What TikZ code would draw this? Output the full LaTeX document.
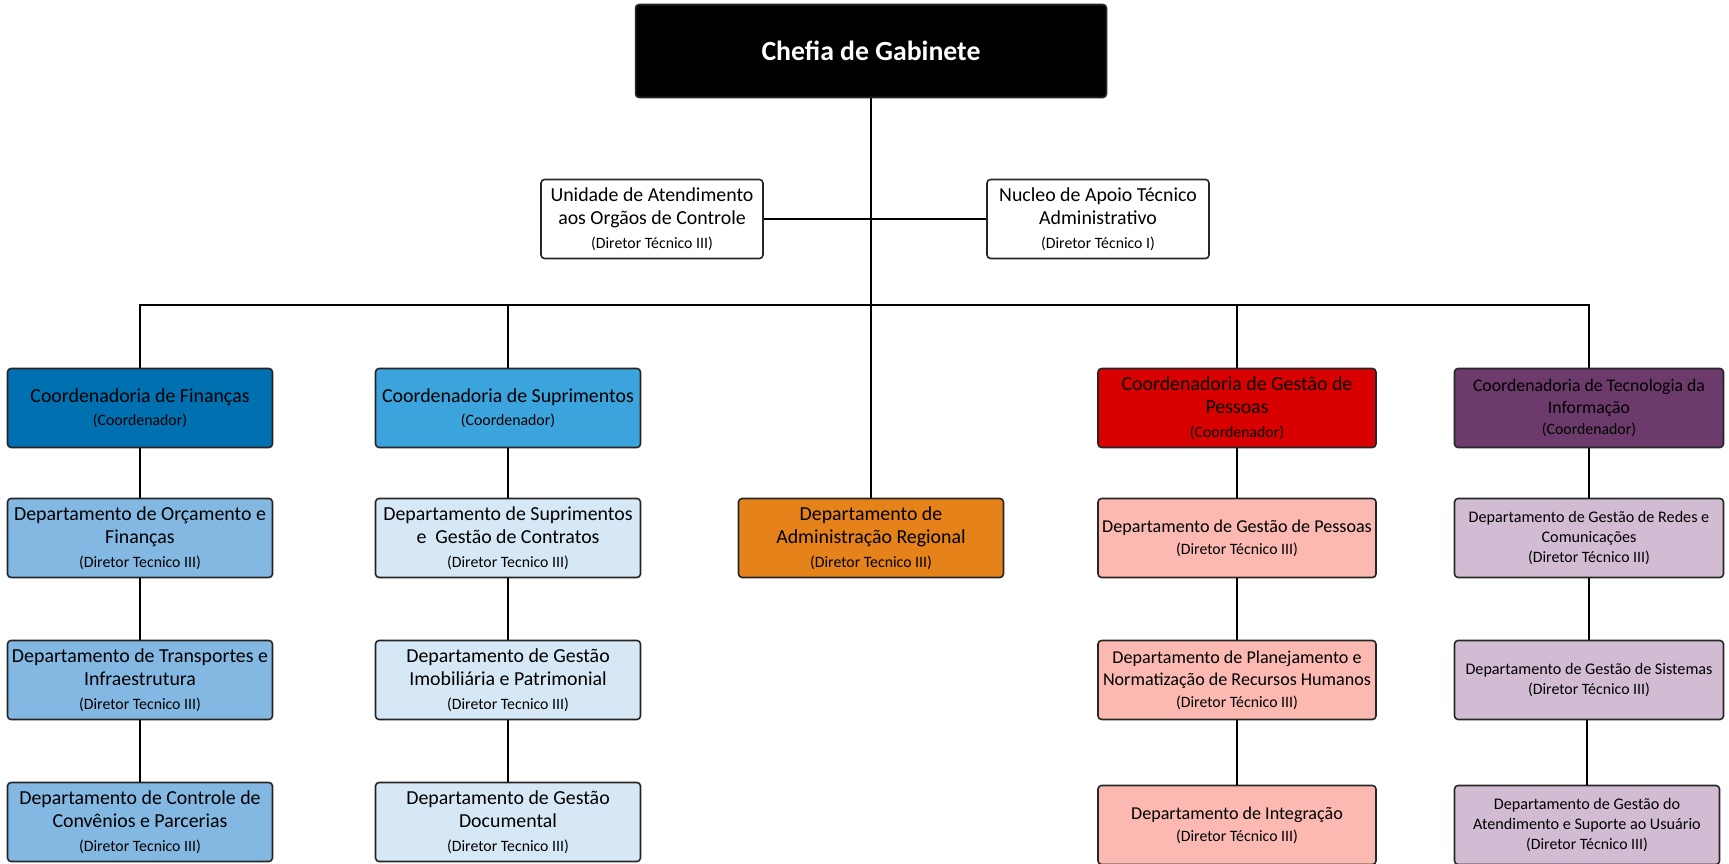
\documentclass[tikz,border=0pt]{standalone}
\usepackage{fontspec}
\setmainfont{Carlito}
\usepackage{tikz}
\usetikzlibrary{positioning,calc}
\definecolor{finA}{RGB}{0,112,176}
\definecolor{finB}{RGB}{131,184,227}
\definecolor{supA}{RGB}{59,164,220}
\definecolor{supB}{RGB}{214,232,245}
\definecolor{admR}{RGB}{229,130,26}
\definecolor{gpA}{RGB}{217,0,0}
\definecolor{gpB}{RGB}{251,185,177}
\definecolor{tiA}{RGB}{108,59,108}
\definecolor{tiB}{RGB}{210,188,211}
\newcommand{\cargo}[1]{\\{\fontsize{9}{11}\selectfont #1}}

\begin{document}
\begin{tikzpicture}[x=0.02cm,y=-0.02cm,
  box/.style={draw=black!85,line width=0.9pt,rounded corners=2pt,align=center,inner sep=1pt,minimum width=5.3cm,minimum height=1.58cm,font=\fontsize{11.3}{13.4}\selectfont},
  topbox/.style={box,minimum width=4.44cm},
  gpbox/.style={box,minimum width=5.56cm},
  tibox/.style={box,minimum width=5.38cm,font=\fontsize{9.2}{11.4}\selectfont},
  link/.style={line width=0.9pt}]
\useasboundingbox (0,0) rectangle (1729,864);
\node[box,fill=black,text=white,minimum width=9.42cm,minimum height=1.86cm,font=\fontsize{15.8}{18}\selectfont\bfseries] (chefia) at (871,51) {Chefia de Gabinete};
\node[topbox] (unid) at (652,219) {Unidade de Atendimento\\aos Orgãos de Controle\cargo{(Diretor Técnico III)}};
\node[topbox] (nucl) at (1098,219) {Nucleo de Apoio Técnico\\Administrativo\cargo{(Diretor Técnico I)}};
\coordinate (bus) at (871,305);
\node[box,fill=finA] (fin) at (140,408) {Coordenadoria de Finanças\cargo{(Coordenador)}};
\node[box,fill=finB] (orc) at (140,538) {Departamento de Orçamento e\\Finanças\cargo{(Diretor Tecnico III)}};
\node[box,fill=finB] (transp) at (140,680) {Departamento de Transportes e\\Infraestrutura\cargo{(Diretor Tecnico III)}};
\node[box,fill=finB] (conv) at (140,822) {Departamento de Controle de\\Convênios e Parcerias\cargo{(Diretor Tecnico III)}};
\node[box,fill=supA] (sup) at (508,408) {Coordenadoria de Suprimentos\cargo{(Coordenador)}};
\node[box,fill=supB] (contr) at (508,538) {Departamento de Suprimentos\\e~~Gestão de Contratos\cargo{(Diretor Tecnico III)}};
\node[box,fill=supB] (imob) at (508,680) {Departamento de Gestão\\Imobiliária e Patrimonial\cargo{(Diretor Tecnico III)}};
\node[box,fill=supB] (doc) at (508,822) {Departamento de Gestão\\Documental\cargo{(Diretor Tecnico III)}};
\node[box,fill=admR] (adm) at (871,538) {Departamento de\\Administração Regional\cargo{(Diretor Tecnico III)}};
\node[gpbox,fill=gpA] (gp) at (1237,408) {Coordenadoria de Gestão de\\Pessoas\cargo{(Coordenador)}};
\node[gpbox,fill=gpB,font=\fontsize{10.3}{12.6}\selectfont] (gpdep) at (1237,538) {Departamento de Gestão de Pessoas\cargo{(Diretor Técnico III)}};
\node[gpbox,fill=gpB,font=\fontsize{10.3}{12.6}\selectfont] (plan) at (1237,680) {Departamento de Planejamento e\\Normatização de Recursos Humanos\cargo{(Diretor Técnico III)}};
\node[gpbox,fill=gpB,font=\fontsize{10.3}{12.6}\selectfont] (integ) at (1237,825) {Departamento de Integração\cargo{(Diretor Técnico III)}};
\node[tibox,fill=tiA,font=\fontsize{10.1}{12.4}\selectfont] (ti) at (1589,408) {Coordenadoria de Tecnologia da\\Informação\cargo{(Coordenador)}};
\node[tibox,fill=tiB] (redes) at (1589,538) {Departamento de Gestão de Redes e\\Comunicações\cargo{(Diretor Técnico III)}};
\node[tibox,fill=tiB] (sist) at (1589,680) {Departamento de Gestão de Sistemas\cargo{(Diretor Técnico III)}};
\node[tibox,fill=tiB,minimum width=5.3cm] (atend) at (1587,825) {Departamento de Gestão do\\Atendimento e Suporte ao Usuário\cargo{(Diretor Técnico III)}};
\draw[link] (chefia.south) -- (adm.north);
\draw[link] (unid.east) -- (nucl.west);
\draw[link] (fin.north) |- (bus) -| (ti.north);
\draw[link] (sup.north) |- (bus);
\draw[link] (gp.north) |- (bus);
\draw[link] (fin) -- (orc) -- (transp) -- (conv);
\draw[link] (sup) -- (contr) -- (imob) -- (doc);
\draw[link] (gp) -- (gpdep) -- (plan) -- (integ);
\draw[link] (ti) -- (redes) -- (sist);
\draw[link] (sist.south -| atend.north) -- (atend.north);
\end{tikzpicture}
\end{document}
